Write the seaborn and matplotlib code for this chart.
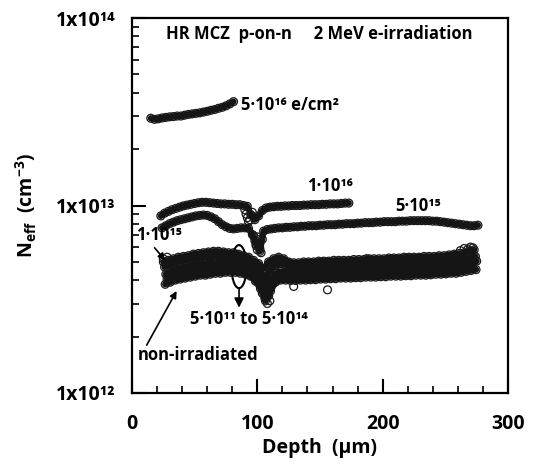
import numpy as np
import pandas as pd
import matplotlib
matplotlib.use("Agg")
import matplotlib.pyplot as plt
from matplotlib.patches import Ellipse
from matplotlib.ticker import MultipleLocator, LogLocator, NullFormatter
import seaborn as sns

# ---------------- data (Neff in units of 1e12 cm^-3, depth in um) ----------------
# 5e16 e/cm2 (units of 1e13), depth 15..81 step 3
neff_5e16 = [2.92, 2.88, 2.90, 2.93, 2.95, 2.97, 2.98, 3.00, 3.00, 3.03, 3.06, 3.08,
             3.10, 3.12, 3.15, 3.18, 3.22, 3.25, 3.30, 3.34, 3.40, 3.48, 3.58]
# 1e16, depth 23..173 step 3
neff_1e16 = [8.8, 9.1, 9.3, 9.5, 9.65, 9.8, 9.95, 10.05, 10.15, 10.25, 10.35, 10.4,
             10.4, 10.35, 10.3, 10.25, 10.2, 10.2, 10.15, 10.15, 10.1, 10.1, 10.0, 9.9,
             8.9, 8.4, 8.8, 9.4, 9.7, 9.8, 9.85, 9.9, 9.9, 9.95, 9.95, 10.0, 10.0,
             10.0, 10.05, 10.05, 10.1, 10.1, 10.1, 10.15, 10.15, 10.2, 10.2, 10.2,
             10.25, 10.3, 10.3]
# 5e15, depth 24..276 step 3
neff_5e15 = [7.6, 7.8, 8.0, 8.15, 8.3, 8.4, 8.5, 8.6, 8.7, 8.8, 8.85, 8.9, 8.85, 8.7,
             8.5, 8.2, 7.9, 7.7, 7.55, 7.5, 7.55, 7.6, 7.6, 7.55, 7.0, 6.2, 5.7, 7.3,
             7.45, 7.5, 7.55, 7.6, 7.6, 7.65, 7.65, 7.7, 7.7, 7.75, 7.75, 7.8, 7.8,
             7.8, 7.85, 7.85, 7.9, 7.9, 7.9, 7.95, 7.95, 8.0, 8.0, 8.0, 8.05, 8.05,
             8.1, 8.1, 8.1, 8.15, 8.15, 8.2, 8.2, 8.2, 8.2, 8.25, 8.25, 8.25, 8.3,
             8.3, 8.3, 8.3, 8.3, 8.3, 8.25, 8.25, 8.2, 8.15, 8.1, 8.05, 8.0, 7.95,
             7.9, 7.85, 7.8, 7.8, 7.85]
# lower cluster (1e15 ... non-irradiated), step 4
neff_1e15 = [5.0, 5.1, 5.2, 5.3, 5.35, 5.4, 5.5, 5.55, 5.6, 5.65, 5.7, 5.7, 5.65, 5.6,
             5.6, 5.5, 5.4, 5.3, 5.1, 4.9, 4.6, 5.0, 5.2, 5.3, 5.2, 5.0, 4.95, 4.95,
             5.0, 5.0, 5.0, 5.05, 5.05, 5.05, 5.1, 5.1, 5.1, 5.1, 5.15, 5.15, 5.15,
             5.2, 5.2, 5.2, 5.2, 5.25, 5.25, 5.25, 5.3, 5.3, 5.3, 5.3, 5.35, 5.35,
             5.35, 5.4, 5.4, 5.45, 5.5, 5.55, 5.6, 5.7, 5.8]
neff_mid_hi = [4.7, 4.85, 4.95, 5.05, 5.1, 5.15, 5.2, 5.25, 5.3, 5.3, 5.35, 5.35, 5.3,
               5.3, 5.25, 5.2, 5.1, 5.0, 4.8, 4.5, 4.0, 4.5, 4.8, 4.9, 4.85, 4.75, 4.7,
               4.7, 4.72, 4.75, 4.75, 4.78, 4.8, 4.8, 4.82, 4.85, 4.85, 4.87, 4.9, 4.9,
               4.9, 4.92, 4.95, 4.95, 4.95, 4.97, 5.0, 5.0, 5.0, 5.02, 5.05, 5.05, 5.05,
               5.07, 5.1, 5.1, 5.12, 5.15, 5.15, 5.2, 5.25, 5.3, 5.35]
neff_mid_lo = [4.3, 4.45, 4.55, 4.65, 4.7, 4.75, 4.8, 4.85, 4.9, 4.95, 4.95, 5.0, 5.0,
               4.95, 4.95, 4.9, 4.85, 4.7, 4.5, 4.1, 3.6, 4.0, 4.35, 4.45, 4.45, 4.4,
               4.4, 4.42, 4.45, 4.45, 4.47, 4.5, 4.5, 4.52, 4.55, 4.55, 4.57, 4.6, 4.6,
               4.6, 4.62, 4.65, 4.65, 4.65, 4.67, 4.7, 4.7, 4.7, 4.72, 4.75, 4.75, 4.75,
               4.77, 4.8, 4.8, 4.82, 4.85, 4.85, 4.87, 4.9, 4.95, 5.0, 5.05]
neff_low = [4.05, 4.2, 4.3, 4.35, 4.4, 4.45, 4.5, 4.55, 4.6, 4.62, 4.65, 4.65, 4.65,
            4.65, 4.6, 4.55, 4.5, 4.4, 4.2, 3.8, 3.3, 3.8, 4.15, 4.25, 4.25, 4.22,
            4.22, 4.24, 4.25, 4.27, 4.28, 4.3, 4.3, 4.32, 4.35, 4.35, 4.37, 4.4, 4.4,
            4.4, 4.42, 4.45, 4.45, 4.45, 4.47, 4.5, 4.5, 4.5, 4.52, 4.55, 4.55, 4.55,
            4.57, 4.6, 4.6, 4.62, 4.65, 4.65, 4.67, 4.7, 4.75, 4.8]
neff_nonirr = [3.8, 3.9, 4.0, 4.05, 4.1, 4.15, 4.2, 4.25, 4.25, 4.3, 4.35, 4.35, 4.4,
               4.4, 4.4, 4.35, 4.3, 4.2, 3.95, 3.6, 3.1, 3.5, 3.9, 4.0, 4.0, 3.98, 3.98,
               4.0, 4.0, 4.02, 4.02, 4.05, 4.05, 4.07, 4.07, 4.1, 4.1, 4.1, 4.12, 4.12,
               4.15, 4.15, 4.15, 4.17, 4.17, 4.2, 4.2, 4.2, 4.22, 4.22, 4.25, 4.25, 4.25,
               4.27, 4.3, 4.3, 4.32, 4.35, 4.35, 4.4, 4.45, 4.5, 4.55]
# scattered points (dips and outliers)
extra_depth = [90, 91, 92, 93, 94, 95, 96,
               97, 98, 99, 100, 101, 102, 103, 104, 100, 102,
               104, 106, 108, 110, 107, 105, 109,
               129, 156, 187, 265, 268, 270, 272, 262, 25, 28, 31]
extra_neff = [9.5, 9.0, 8.6, 8.2, 8.4, 8.9, 9.2,
              6.9, 6.5, 6.1, 5.8, 6.3, 5.9, 5.6, 6.6, 6.8, 6.6,
              3.4, 3.2, 3.0, 3.1, 3.7, 3.9, 3.3,
              3.7, 3.55, 5.2, 5.9, 5.85, 6.0, 5.95, 5.75, 5.2, 5.3, 4.1]

series = [
    ("5e16", 15, 3, np.array(neff_5e16) * 1e13),
    ("1e16", 23, 3, np.array(neff_1e16) * 1e12),
    ("5e15", 24, 3, np.array(neff_5e15) * 1e12),
    ("1e15", 25, 4, np.array(neff_1e15) * 1e12),
    ("mid_hi", 26, 4, np.array(neff_mid_hi) * 1e12),
    ("mid_lo", 27, 4, np.array(neff_mid_lo) * 1e12),
    ("low", 28, 4, np.array(neff_low) * 1e12),
    ("non-irr", 26.5, 4, np.array(neff_nonirr) * 1e12),
]
frames = []
for name, start, step, vals in series:
    frames.append(pd.DataFrame({"depth": start + step * np.arange(len(vals)),
                                "neff": vals, "series": name}))
curves = pd.concat(frames, ignore_index=True)
extra = pd.DataFrame({"depth": extra_depth, "neff": np.array(extra_neff) * 1e12,
                      "series": "extra"})
df = pd.concat([curves, extra], ignore_index=True)

# ---------------- style ----------------
sns.set_style("ticks")
FAM = "Open Sans"
plt.rcParams["font.family"] = [FAM, "DejaVu Sans"]
plt.rcParams["font.weight"] = "bold"
plt.rcParams["text.color"] = "black"
plt.rcParams["axes.labelcolor"] = "black"
plt.rcParams["xtick.color"] = "black"
plt.rcParams["ytick.color"] = "black"
plt.rcParams["mathtext.fontset"] = "custom"
plt.rcParams["mathtext.rm"] = FAM + ":bold"
plt.rcParams["mathtext.bf"] = FAM + ":bold"
plt.rcParams["mathtext.it"] = FAM + ":bold"
plt.rcParams["mathtext.default"] = "bf"

fig = plt.figure(figsize=(5.38, 4.68), dpi=100)
ax = fig.add_axes([132 / 538, 1 - 393 / 468, 376 / 538, 375 / 468])

# dense band core (the measured points overlap into solid bands)
sns.lineplot(data=curves, x="depth", y="neff", units="series", estimator=None,
             ax=ax, color="#151515", lw=4.5, legend=False, sort=False)
sns.scatterplot(data=df, x="depth", y="neff", ax=ax, marker="o", s=32,
                facecolor="none", edgecolor="#1a1a1a", linewidth=0.9, legend=False)

ax.set_yscale("log")
ax.set_xlim(0, 300)
ax.set_ylim(1e12, 1e14)

for sp in ax.spines.values():
    sp.set_linewidth(1.6)
    sp.set_color("black")

ax.xaxis.set_major_locator(MultipleLocator(100))
ax.xaxis.set_minor_locator(MultipleLocator(20))
ax.set_yticks([1e12, 1e13, 1e14])
ax.set_yticklabels(["1x10¹²", "1x10¹³", "1x10¹⁴"])
ax.yaxis.set_minor_locator(LogLocator(base=10, subs=np.arange(2, 10)))
ax.yaxis.set_minor_formatter(NullFormatter())
ax.tick_params(which="major", direction="in", length=10, width=1.5,
               labelsize=14, pad=12, color="black", labelcolor="black")
ax.tick_params(which="minor", direction="in", length=5, width=1.2, color="black")
ax.tick_params(axis="x", which="major", pad=15)
for lab in ax.get_xticklabels() + ax.get_yticklabels():
    lab.set_fontweight("bold")

ax.set_xlabel("Depth  (μm)", fontsize=14, fontweight="bold", labelpad=3, color="black")
ax.set_ylabel(r"$N_{eff}$  (cm$^{-3}$)", fontsize=14, fontweight="bold", labelpad=12,
              color="black")

# ---------------- annotations ----------------
tfs = 12
ax.text(0.09, 0.957, "HR MCZ  p-on-n     2 MeV e-irradiation", transform=ax.transAxes,
        fontsize=tfs, fontweight="bold", va="center", ha="left")
ax.text(87, 3.45e13, "5·10¹⁶ e/cm²", fontsize=tfs, fontweight="bold", va="center")
ax.text(139.5, 1.27e13, "1·10¹⁶", fontsize=tfs, fontweight="bold", va="center")
ax.text(210, 9.9e12, "5·10¹⁵", fontsize=tfs, fontweight="bold", va="center")
ax.text(3.5, 6.97e12, "1·10¹⁵", fontsize=tfs, fontweight="bold", va="center")
ax.text(46, 2.48e12, "5·10¹¹ to 5·10¹⁴", fontsize=tfs, fontweight="bold", va="center")
ax.text(4.5, 1.6e12, "non-irradiated", fontsize=tfs, fontweight="bold", va="center")

arrow = dict(arrowstyle="-|>", color="black", lw=1.2, mutation_scale=10,
             shrinkA=0, shrinkB=0)
ax.annotate("", xy=(26.5, 5.1e12), xytext=(18, 5.95e12), arrowprops=arrow)
ax.annotate("", xy=(35.6, 3.5e12), xytext=(11.7, 1.8e12), arrowprops=arrow)
ax.annotate("", xy=(85.4, 2.85e12), xytext=(85.4, 3.64e12),
            arrowprops=dict(arrowstyle="-|>", color="black", lw=1.2,
                            mutation_scale=14, shrinkA=0, shrinkB=0))
ax.add_patch(Ellipse((0.2846, 0.337), 0.04, 0.115, transform=ax.transAxes,
                     fill=False, edgecolor="black", lw=1.5))

fig.savefig("out.png", dpi=100)
